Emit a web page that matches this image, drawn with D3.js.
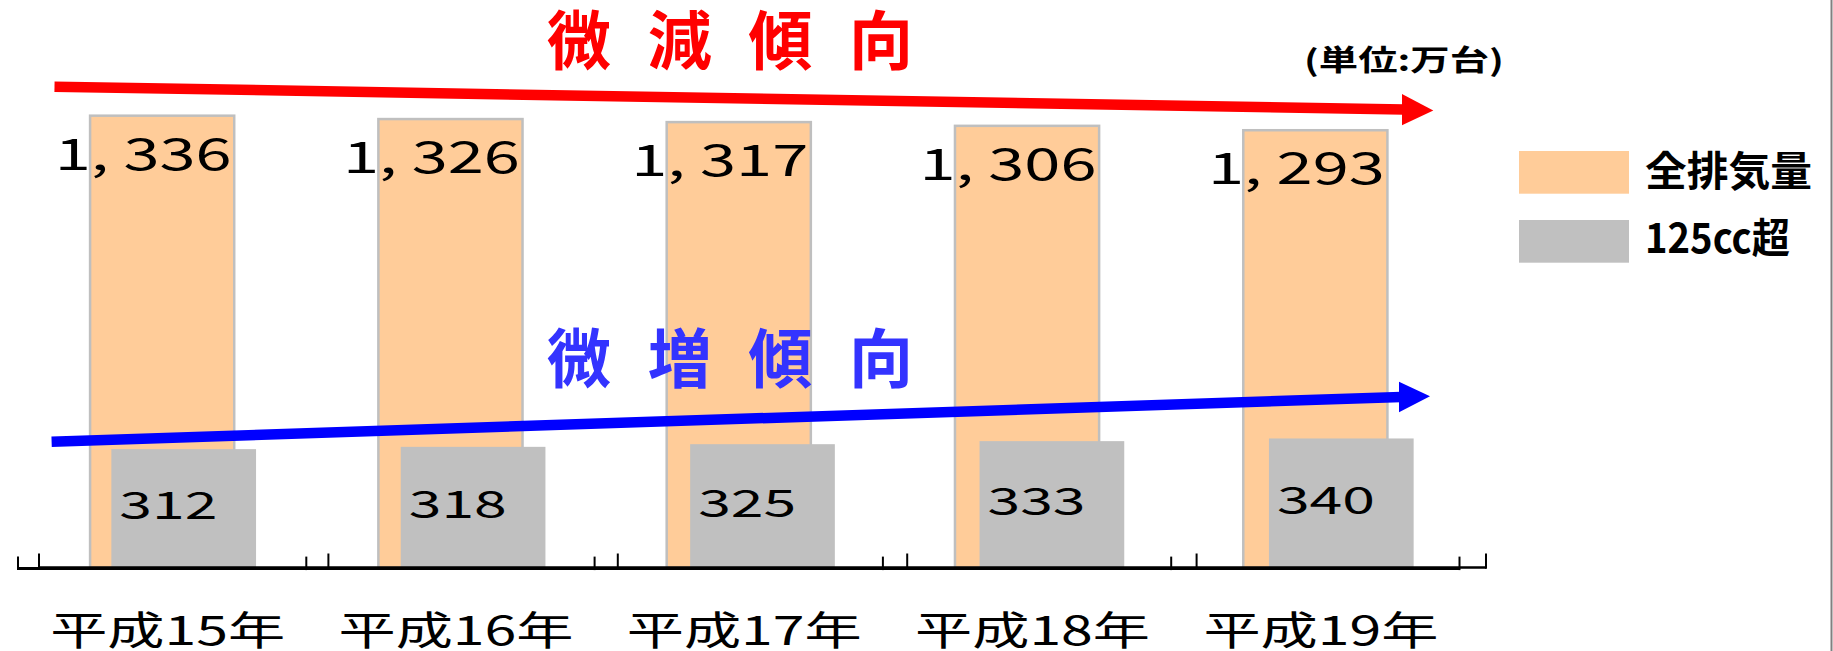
<!DOCTYPE html>
<html>
<head>
<meta charset="utf-8">
<script src="https://cdn.jsdelivr.net/npm/d3@7"></script>
<style>
  html, body { margin: 0; padding: 0; background: #fff; }
  svg { display: block; }
  text { font-family: "Noto Sans CJK JP", "Noto Sans", sans-serif; }
</style>
</head>
<body>
<svg id="chart" width="1833" height="651"></svg>
<script>
// ---- data ----
const categories = ["平成15年", "平成16年", "平成17年", "平成18年", "平成19年"];
const totalValues = [1336, 1326, 1317, 1306, 1293];      // 全排気量
const over125Values = [312, 318, 325, 333, 340];          // 125cc超
const seriesNames = ["全排気量", "125cc超"];
const trendLabels = ["微 減 傾 向", "微 増 傾 向"];
const unitLabel = "(単位:万台)";

// ---- setup ----
const svg = d3.select("#chart");
const W = 1833, H = 651;
const baseY = 568;
const colTotal = "#FFCC99", colOver = "#C0C0C0";

const xTotal = d3.scaleBand().domain(categories).range([18, 1459.5])
  .paddingInner(0.5).paddingOuter(0.25);
const xOver = d3.scaleBand().domain(categories).range([39, 1486])
  .paddingInner(0.5).paddingOuter(0.25);
const yTotal = d3.scaleLinear().domain([0, 1600]).range([baseY, 26.3]);
const yOver = d3.scaleLinear().domain([0, 1400]).range([baseY, 34.6]);

const totalData = categories.map((c, i) => ({ c, v: totalValues[i] }));
const overData = categories.map((c, i) => ({ c, v: over125Values[i] }));

// horizontally stretch a text to a target width (the reference text is wide)
function stretch(sel, xf, yf, widthf) {
  sel.attr("x", 0).attr("y", 0).each(function (d, i) {
    const w = this.getComputedTextLength();
    const s = widthf(d, i) / w;
    d3.select(this).attr("transform",
      `translate(${xf(d, i)},${yf(d, i)}) scale(${s},1)`);
  });
}

// ---- bars ----
svg.append("g").selectAll("rect").data(totalData).join("rect")
  .attr("x", d => xTotal(d.c))
  .attr("y", d => yTotal(d.v))
  .attr("width", xTotal.bandwidth())
  .attr("height", d => baseY - yTotal(d.v))
  .attr("fill", colTotal)
  .attr("stroke", "#BFBFBF")
  .attr("stroke-width", 2.5);

svg.append("g").selectAll("rect").data(overData).join("rect")
  .attr("x", d => xOver(d.c))
  .attr("y", d => yOver(d.v))
  .attr("width", xOver.bandwidth())
  .attr("height", d => baseY - yOver(d.v))
  .attr("fill", colOver);

// ---- axes (category boundaries) ----
function drawAxis(scale, y, sw, tickLen) {
  const g = svg.append("g");
  const [r0, r1] = scale.range();
  const step = scale.step();
  g.append("line").attr("x1", r0).attr("x2", r1).attr("y1", y).attr("y2", y)
    .attr("stroke", "#000").attr("stroke-width", sw);
  g.selectAll("line.tick").data(d3.range(categories.length + 1)).join("line")
    .attr("class", "tick")
    .attr("x1", i => r0 + i * step).attr("x2", i => r0 + i * step)
    .attr("y1", y + sw / 2).attr("y2", y - tickLen)
    .attr("stroke", "#000").attr("stroke-width", 2);
}
drawAxis(xOver, 567.5, 2.5, 14);
drawAxis(xTotal, 568.6, 3, 12);

// ---- trend arrows ----
function arrow(x1, y1, x2, y2, tipX, tipY, half, color) {
  const g = svg.append("g");
  g.append("line").attr("x1", x1).attr("y1", y1).attr("x2", x2 + 2).attr("y2", y2)
    .attr("stroke", color).attr("stroke-width", 10.5);
  g.append("path")
    .attr("d", `M${x2},${y2 - half} L${tipX},${tipY} L${x2},${y2 + half} Z`)
    .attr("fill", color);
}
arrow(54.5, 86.7, 1402, 109.6, 1433.3, 110.6, 15.6, "#FF0000");
arrow(51.6, 441.7, 1399, 397, 1430, 396.2, 15.3, "#0000FF");

// ---- titles ----
const trendColors = ["#FF0000", "#3333FF"];
const trendY = [64, 382];
svg.append("g").selectAll("text").data(trendLabels).join("text")
  .attr("x", 547).attr("y", (d, i) => trendY[i])
  .attr("font-size", 64).attr("font-weight", 700)
  .attr("fill", (d, i) => trendColors[i])
  .text(d => d)
  .each(function () {
    const w = this.getComputedTextLength();
    const n = this.textContent.length;
    d3.select(this).attr("letter-spacing", (366 - w) / (n - 1));
  });

svg.append("text")
  .attr("font-size", 29).attr("font-weight", 700).attr("fill", "#000")
  .text(unitLabel)
  .call(stretch, () => 1304, () => 71, () => 200);

// ---- value labels ----
const fmtTotal = v => d3.format(",")(v).replace(",", ", ");
svg.append("g").selectAll("text").data(totalData).join("text")
  .attr("text-anchor", "middle")
  .attr("font-size", 44).attr("fill", "#000")
  .text(d => fmtTotal(d.v))
  .call(stretch,
    d => xTotal(d.c) + xTotal.bandwidth() / 2 - 19,
    d => yTotal(d.v) + 54,
    () => 177);

svg.append("g").selectAll("text").data(overData).join("text")
  .attr("font-size", 38.5).attr("fill", "#000")
  .text(d => String(d.v))
  .call(stretch,
    d => xOver(d.c) + 8,
    d => (yOver(d.v) + baseY) / 2 + 10.5,
    () => 98);

// ---- category labels ----
svg.append("g").selectAll("text").data(categories).join("text")
  .attr("text-anchor", "middle")
  .attr("font-size", 40).attr("fill", "#000")
  .text(c => c)
  .call(stretch,
    c => xTotal(c) + xTotal.bandwidth() / 2 + 5.5,
    () => 645,
    () => 235);

// ---- legend ----
const legend = svg.append("g");
const legendColors = [colTotal, colOver];
const legendWidths = [167, 145];
legend.selectAll("rect").data(seriesNames).join("rect")
  .attr("x", 1519).attr("y", (d, i) => 151 + i * 69)
  .attr("width", 110).attr("height", 42.7)
  .attr("fill", (d, i) => legendColors[i]);
legend.selectAll("text").data(seriesNames).join("text")
  .attr("font-size", 41).attr("font-weight", 700).attr("fill", "#000")
  .text(d => d)
  .call(stretch, () => 1645, (d, i) => 185.5 + i * 67.5, (d, i) => legendWidths[i]);

// ---- right border ----
svg.append("line").attr("x1", 1831.5).attr("x2", 1831.5).attr("y1", 0).attr("y2", H)
  .attr("stroke", "#808080").attr("stroke-width", 2);
</script>
</body>
</html>
